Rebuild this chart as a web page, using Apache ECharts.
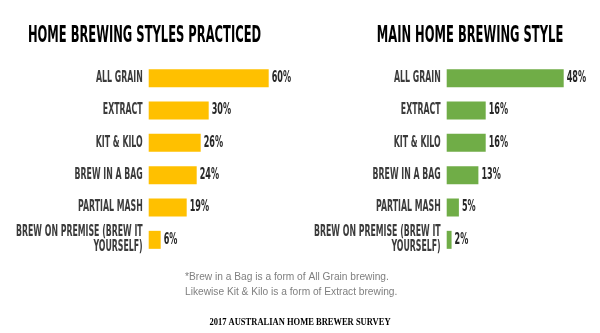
<!DOCTYPE html>
<html><head><meta charset="utf-8">
<script src="https://cdn.jsdelivr.net/npm/echarts@6/dist/echarts.min.js"></script>
<style>html,body{margin:0;padding:0;background:#fff}#c{width:600px;height:333px}</style>
</head><body><div id="c"></div>
<script>
const categories = ["ALL GRAIN", "EXTRACT", "KIT & KILO", "BREW IN A BAG", "PARTIAL MASH", "BREW ON PREMISE (BREW IT\nYOURSELF)"];
const practiced = [60, 30, 26, 24, 19, 6];
const mainStyle = [48, 16, 16, 13, 5, 2];
const leftTitle = "HOME BREWING STYLES PRACTICED";
const rightTitle = "MAIN HOME BREWING STYLE";
const footnote = "*Brew in a Bag is a form of All Grain brewing.\nLikewise Kit & Kilo is a form of Extract brewing.";
const source = "2017 AUSTRALIAN HOME BREWER SURVEY";

const condFont = '"DejaVu Sans Condensed", "DejaVu Sans", sans-serif';
const chart = echarts.init(document.getElementById('c'));
function yAx(i){return {type:'category',gridIndex:i,data:categories,inverse:true,
  axisLine:{show:false},axisTick:{show:false},axisLabel:{show:false}};}
function xAx(i,max){return {type:'value',gridIndex:i,min:0,max:max,show:false};}
function ser(i,data,color){return {type:'bar',xAxisIndex:i,yAxisIndex:i,data:data,barWidth:18,
  itemStyle:{color:color},label:{show:false}};}
chart.setOption({
  animation:false,
  grid:[
    {left:148.7,width:120,top:62,height:194,containLabel:false,outerBoundsMode:'none'},
    {left:446.7,width:117,top:62,height:194,containLabel:false,outerBoundsMode:'none'}
  ],
  xAxis:[xAx(0,60),xAx(1,48)],
  yAxis:[yAx(0),yAx(1)],
  series:[ser(0,practiced,'#FFC000'),ser(1,mainStyle,'#70AD47')]
});

const g = [];
g.push({type:'text',x:144.5,y:36,scaleX:0.557,style:{text:leftTitle,font:'bold 23px '+condFont,fill:'#000',align:'center',verticalAlign:'middle'}});
g.push({type:'text',x:470,y:36,scaleX:0.557,style:{text:rightTitle,font:'bold 23px '+condFont,fill:'#000',align:'center',verticalAlign:'middle'}});
g.push({type:'text',x:185,y:270,style:{text:footnote,font:'10.2px "Liberation Sans", "Open Sans", sans-serif',fill:'#7f7f7f',lineHeight:15}});
g.push({type:'text',x:300,y:322,scaleX:0.85,style:{text:source,font:'bold 10px "Liberation Serif", serif',fill:'#000',align:'center',verticalAlign:'middle'}});
[practiced, mainStyle].forEach((vals, gi) => {
  categories.forEach((c, i) => {
    const p0 = chart.convertToPixel({gridIndex:gi}, [0, c]);
    g.push({type:'text',x:p0[0]-6,y:p0[1],scaleX:0.58,style:{text:c,font:'bold 15px '+condFont,fill:'#3b3b3b',align:'right',verticalAlign:'middle',lineHeight:15.5}});
    const p1 = chart.convertToPixel({gridIndex:gi}, [vals[i], c]);
    g.push({type:'text',x:p1[0]+3,y:p1[1],scaleX:0.6,style:{text:vals[i]+'%',font:'bold 15px '+condFont,fill:'#262626',align:'left',verticalAlign:'middle'}});
  });
});
chart.setOption({graphic:g});
</script></body></html>
